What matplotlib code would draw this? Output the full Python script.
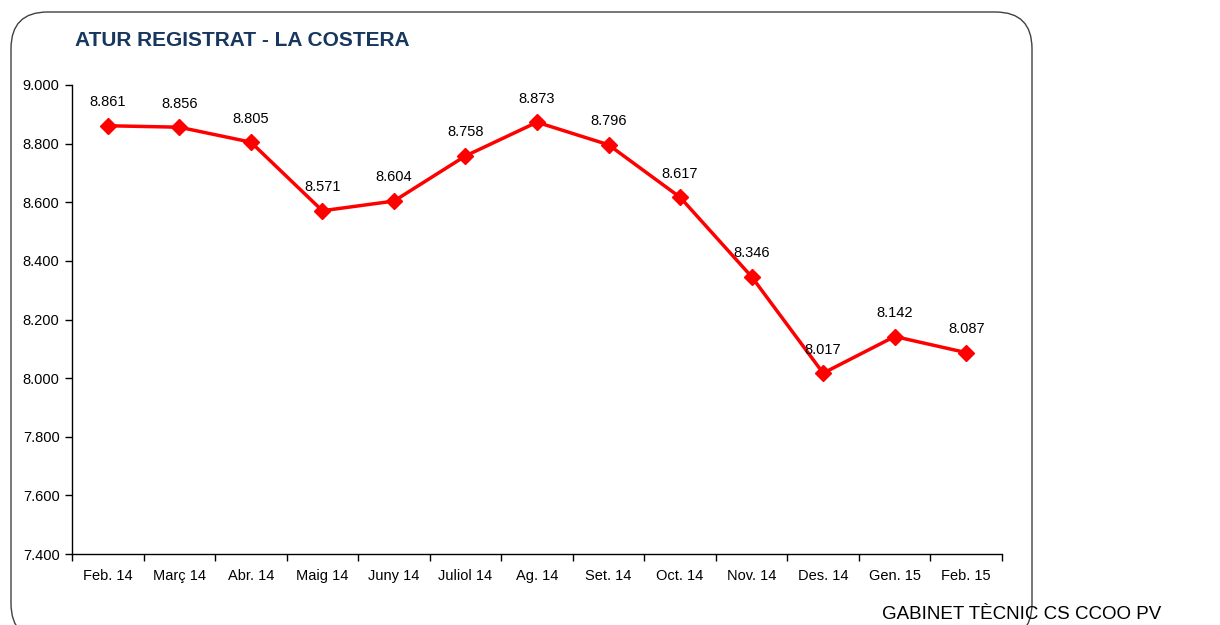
import matplotlib
matplotlib.use("Agg")
import matplotlib.pyplot as plt
from matplotlib.patches import FancyBboxPatch
from matplotlib.ticker import FuncFormatter, FixedLocator

plt.rcParams['font.family'] = ['Liberation Sans', 'DejaVu Sans']

months = ["Feb. 14", "Març 14", "Abr. 14", "Maig 14", "Juny 14", "Juliol 14", "Ag. 14",
          "Set. 14", "Oct. 14", "Nov. 14", "Des. 14", "Gen. 15", "Feb. 15"]
values = [8861, 8856, 8805, 8571, 8604, 8758, 8873, 8796, 8617, 8346, 8017, 8142, 8087]
yticks = [7400, 7600, 7800, 8000, 8200, 8400, 8600, 8800, 9000]

W, H = 1220, 625
fig = plt.figure(figsize=(W / 100, H / 100), dpi=100)

# rounded frame
box = FancyBboxPatch((11 / W, 1 - 640 / H), (1032 - 11) / W, (640 - 12) / H,
                     boxstyle="round,pad=0,rounding_size=0.03",
                     transform=fig.transFigure, fill=False,
                     edgecolor="#404040", linewidth=1.0, mutation_aspect=W / H)
fig.patches.append(box)

ax = fig.add_axes([72 / W, 1 - 554 / H, (1002 - 72) / W, (554 - 85) / H])
x = list(range(len(months)))
ax.plot(x, values, color="#FF0000", linewidth=2.5, marker="D", markersize=8.5,
        markerfacecolor="#FF0000", markeredgecolor="#FF0000", clip_on=False)

def fmt(v):
    return f"{int(round(v)):,}".replace(",", ".")

for xi, v in zip(x, values):
    ax.annotate(fmt(v), (xi, v), xytext=(0, 17), textcoords="offset points",
                ha="center", va="center", fontsize=10.5, color="black")

ax.set_xlim(-0.5, len(months) - 0.5)
ax.set_ylim(7400, 9000)
ax.set_yticks(yticks)
ax.yaxis.set_major_formatter(FuncFormatter(lambda v, p: fmt(v)))
ax.set_xticks(x)
ax.set_xticklabels(months)
ax.xaxis.set_minor_locator(FixedLocator([i - 0.5 for i in range(len(months) + 1)]))
ax.tick_params(axis="x", which="major", length=0, pad=11, labelsize=10.5)
ax.tick_params(axis="x", which="minor", length=5, direction="out", width=1)
ax.tick_params(axis="y", length=5, direction="out", width=1, labelsize=10.5, pad=4)
for s in ["top", "right"]:
    ax.spines[s].set_visible(False)
for s in ["left", "bottom"]:
    ax.spines[s].set_linewidth(1.0)
    ax.spines[s].set_color("black")

fig.text(75 / W, 1 - 40 / H, "ATUR REGISTRAT - LA COSTERA", fontsize=15, fontweight="bold",
         color="#17375E", ha="left", va="center")
fig.text(882 / W, 1 - 623 / H, "GABINET TÈCNIC CS CCOO PV", fontsize=13.5,
         color="black", ha="left", va="bottom")

fig.savefig("out.png", dpi=100)
